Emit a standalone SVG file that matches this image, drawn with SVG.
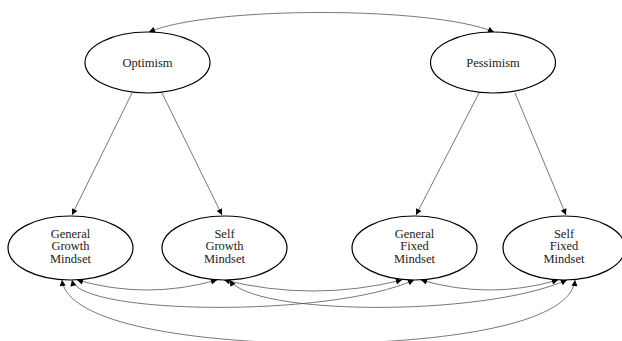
<svg xmlns="http://www.w3.org/2000/svg" width="622" height="341" viewBox="0 0 622 341">
<defs>
<style>
.node ellipse{fill:#fff;stroke:#000;stroke-width:1.2}
.node text{font-family:"Liberation Serif","Times New Roman","DejaVu Serif",serif;font-size:12.5px;fill:#222;text-anchor:middle}
.edges path{fill:none;stroke:#555;stroke-width:0.8}
</style>
<marker id="ah" viewBox="0 0 10 10" refX="10" refY="5" markerWidth="8" markerHeight="6" markerUnits="userSpaceOnUse" orient="auto-start-reverse">
<path d="M0,0 L10,5 L0,10 z" fill="#000"/>
</marker>
</defs>
<rect width="622" height="341" fill="#fff"/>
<g class="edges">
<path d="M149,32 C210,6 432,6 494,32" marker-start="url(#ah)" marker-end="url(#ah)"/>
<path d="M132,93 L72,215" marker-end="url(#ah)"/>
<path d="M162,93 L222,215" marker-end="url(#ah)"/>
<path d="M479,93 L416,215" marker-end="url(#ah)"/>
<path d="M515,93 L566,215" marker-end="url(#ah)"/>
<path d="M77,280 Q147,300 217,280" marker-start="url(#ah)" marker-end="url(#ah)"/>
<path d="M224,280 Q313,302 402,280" marker-start="url(#ah)" marker-end="url(#ah)"/>
<path d="M421,280 Q489.5,300 558,280" marker-start="url(#ah)" marker-end="url(#ah)"/>
<path d="M72,280 C80,315 330,318 414,280" marker-start="url(#ah)" marker-end="url(#ah)"/>
<path d="M230,280 C250,315 480,318 567,280" marker-start="url(#ah)" marker-end="url(#ah)"/>
<path d="M62,280 C66,315 150,341 320,344 C490,341 572,315 575,280" marker-start="url(#ah)" marker-end="url(#ah)"/>
</g>
<g id="optimism" class="node"><ellipse cx="147.5" cy="62.5" rx="62.5" ry="30.5"/><text x="147.5" y="67">Optimism</text></g>
<g id="pessimism" class="node"><ellipse cx="493" cy="62.5" rx="62.5" ry="30.5"/><text x="493" y="67">Pessimism</text></g>
<g id="general-growth" class="node"><ellipse cx="70.5" cy="248" rx="62.5" ry="32"/><text x="70.5" y="237.5">General</text><text x="70.5" y="250">Growth</text><text x="70.5" y="262.5">Mindset</text></g>
<g id="self-growth" class="node"><ellipse cx="224.5" cy="248" rx="62.5" ry="32"/><text x="224.5" y="237.5">Self</text><text x="224.5" y="250">Growth</text><text x="224.5" y="262.5">Mindset</text></g>
<g id="general-fixed" class="node"><ellipse cx="414.5" cy="248" rx="62.5" ry="32"/><text x="414.5" y="237.5">General</text><text x="414.5" y="250">Fixed</text><text x="414.5" y="262.5">Mindset</text></g>
<g id="self-fixed" class="node"><ellipse cx="564" cy="248" rx="61" ry="32"/><text x="564" y="237.5">Self</text><text x="564" y="250">Fixed</text><text x="564" y="262.5">Mindset</text></g>
</svg>
